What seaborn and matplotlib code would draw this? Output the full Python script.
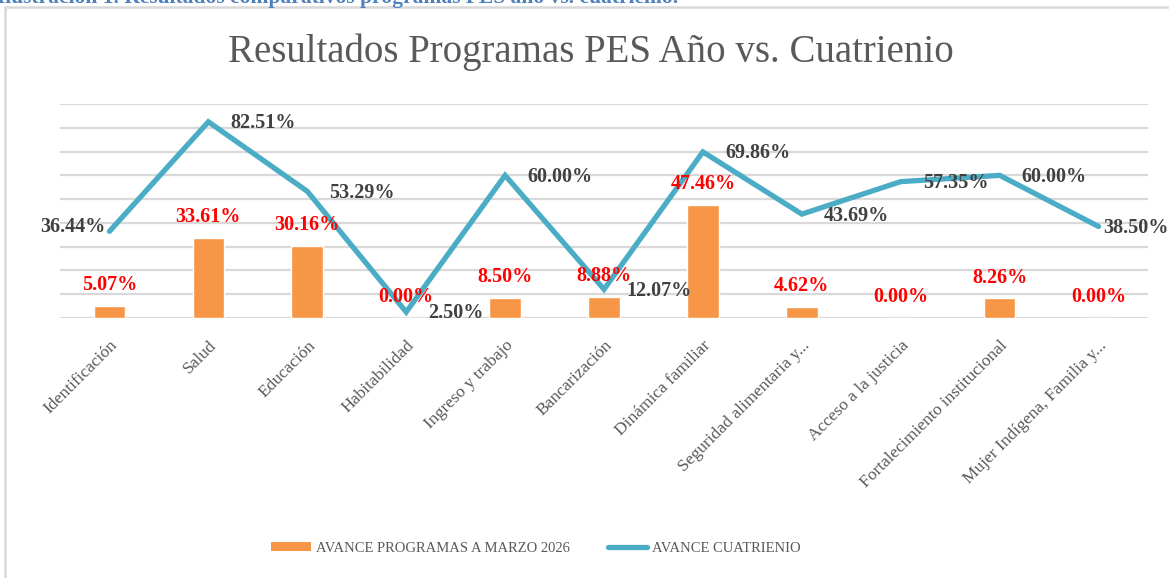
import numpy as np
import pandas as pd
import matplotlib.pyplot as plt
import seaborn as sns
from matplotlib.patches import Rectangle
from matplotlib.lines import Line2D
from matplotlib.patches import Patch

# data
programas = ['Identificación', 'Salud', 'Educación', 'Habitabilidad', 'Ingreso y trabajo',
             'Bancarización', 'Dinámica familiar', 'Seguridad alimentaria y...',
             'Acceso a la justicia', 'Fortalecimiento institucional', 'Mujer Indígena, Familia y...']
avance_marzo = [0.0507, 0.3361, 0.3016, 0.0, 0.0850, 0.0888, 0.4746, 0.0462, 0.0, 0.0826, 0.0]
avance_cuatrienio = [0.3644, 0.8251, 0.5329, 0.0250, 0.6000, 0.1207, 0.6986, 0.4369, 0.5735, 0.6000, 0.3850]

df = pd.DataFrame({'programa': programas, 'pos': np.arange(len(programas)),
                   'marzo': avance_marzo, 'cuatrienio': avance_cuatrienio})

sns.set_style('white')
plt.rcParams['font.family'] = ['Liberation Serif', 'DejaVu Serif']

bar_color = '#f79646'
line_color = '#4bacc6'
grey = '#595959'

fig = plt.figure(figsize=(11.69, 5.78), dpi=100)
ax = fig.add_axes([60/1169, 1-318/578, (1148-60)/1169, (318-104)/578])

sns.barplot(data=df, x='pos', y='marzo', color=bar_color, width=0.32, saturation=1, ax=ax)
sns.lineplot(data=df, x='pos', y='cuatrienio', color=line_color, linewidth=3.8, ax=ax,
             solid_capstyle='round', solid_joinstyle='miter')

ax.set_ylim(0, 0.9)
ax.set_xlim(-0.5, len(programas) - 0.5)
ax.set_yticks(np.arange(0, 0.91, 0.1))
ax.set_yticklabels([])
ax.grid(axis='y', color='#d9d9d9', linewidth=1.6)
ax.set_axisbelow(True)
ax.tick_params(axis='both', length=0)
for s in ax.spines.values():
    s.set_visible(False)
ax.set_xlabel('')
ax.set_ylabel('')
ax.set_xticks(df['pos'])
ax.set_xticklabels(programas, rotation=45, ha='right', rotation_mode='anchor',
                   fontsize=12.5, color=grey)
ax.tick_params(axis='x', pad=14)

# bar labels
for i, v in enumerate(avance_marzo):
    ax.annotate(f'{v*100:.2f}%', xy=(i, v), xytext=(0, 15), textcoords='offset points',
                ha='center', va='center', color='#ff0000', fontsize=14.5, fontweight='bold')

# line labels
for i, v in enumerate(avance_cuatrienio):
    if i == 0:
        off, ha = (-3, 3), 'right'
    elif i == len(avance_cuatrienio) - 1:
        off, ha = (3, -1), 'left'
    else:
        off, ha = (16, -1), 'left'
    ax.annotate(f'{v*100:.2f}%', xy=(i, v), xytext=off, textcoords='offset points',
                ha=ha, va='center', color='#404040', fontsize=14.5, fontweight='bold')

fig.text(591/1169, 1-52/578, 'Resultados Programas PES Año vs. Cuatrienio',
         ha='center', va='center', fontsize=28, color=grey)

handles = [Patch(facecolor=bar_color, edgecolor='none'),
           Line2D([0], [0], color=line_color, linewidth=3.8, solid_capstyle='round')]
fig.legend(handles, ['AVANCE PROGRAMAS A MARZO 2026', 'AVANCE CUATRIENIO'],
           loc='center', bbox_to_anchor=(536/1169, 1-548/578), ncol=2, frameon=False,
           fontsize=10.5, labelcolor=grey, handlelength=2.7, handleheight=0.55,
           handletextpad=0.35, columnspacing=2.6)

# outer frame and caption cut off at the top
fig.patches.append(Rectangle((5/1169, -0.05), 1.1, 1-7/578 + 0.05, transform=fig.transFigure,
                             fill=False, edgecolor='#d9d9d9', linewidth=1.8))
fig.text(-3/1169, 1-2.5/578, 'Ilustración 1. Resultados comparativos programas PES año vs. cuatrienio.',
         ha='left', va='baseline', fontsize=15.5, fontweight='bold', color='#4f81bd')

fig.savefig('out.png', dpi=100)
